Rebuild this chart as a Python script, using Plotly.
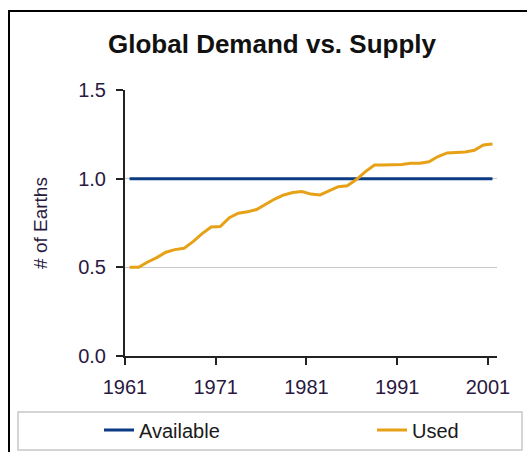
import plotly.graph_objects as go

years = list(range(1961, 2002))
available = [1.0] * 41
used = [0.50, 0.50, 0.53, 0.555, 0.585, 0.60, 0.607, 0.645, 0.69, 0.727,
        0.73, 0.78, 0.805, 0.813, 0.826, 0.855, 0.885, 0.908, 0.922, 0.927,
        0.913, 0.908, 0.93, 0.955, 0.96, 0.995, 1.04, 1.077, 1.077, 1.077,
        1.08, 1.087, 1.087, 1.095, 1.125, 1.145, 1.147, 1.15, 1.16, 1.19, 1.196]
tick_labels = ["1961", "1971", "1981", "1991", "2001"]
y_ticks = [0.0, 0.5, 1.0, 1.5]

BLUE = "#0b3b83"
ORANGE = "#e6a117"
TXT = "#2a1840"

W, H = 527, 452
L, R, T, B = 125, 30, 90, 96

fig = go.Figure()
fig.add_trace(go.Scatter(x=years, y=available, mode="lines", name="Available",
                         line=dict(color=BLUE, width=3), legend="legend"))
fig.add_trace(go.Scatter(x=years, y=used, mode="lines", name="Used",
                         line=dict(color=ORANGE, width=3), legend="legend2"))


def px_x(p):
    return (p - L) / (W - L - R)


def px_y(p):
    return (H - B - p) / (H - T - B)


leg_common = dict(orientation="h", xanchor="left", yanchor="middle",
                  xref="container", yref="container",
                  bgcolor="rgba(0,0,0,0)", borderwidth=0,
                  font=dict(size=20, color="#1a1a1a"),
                  itemclick=False, itemdoubleclick=False)

fig.update_layout(
    width=W, height=H,
    margin=dict(l=L, r=R, t=T, b=B, autoexpand=False),
    paper_bgcolor="white", plot_bgcolor="white",
    font=dict(family="Liberation Sans, Arial, sans-serif", color=TXT),
    title=dict(text="<b>Global Demand vs. Supply</b>", x=272 / W, xanchor="center",
               xref="container", yref="container", y=1 - 44 / H, yanchor="middle",
               font=dict(size=26, color="#111111")),
    xaxis=dict(range=[1960.5, 2001.5],
               tickvals=[1960.5, 1970.5, 1980.5, 1990.5, 2000.5],
               ticktext=tick_labels,
               showgrid=False, zeroline=False, automargin=False,
               showline=True, linecolor="#222222", linewidth=2,
               ticks="outside", ticklen=7, tickwidth=2, tickcolor="#222222",
               tickfont=dict(size=20, color=TXT), ticklabelstandoff=5),
    yaxis=dict(range=[0, 1.5], tickvals=y_ticks,
               ticktext=["0.0", "0.5", "1.0", "1.5"],
               showgrid=True, gridcolor="#c8c8c8", gridwidth=1,
               zeroline=False, automargin=False,
               showline=True, linecolor="#222222", linewidth=2,
               ticks="outside", ticklen=7, tickwidth=2, tickcolor="#222222",
               tickfont=dict(size=20, color=TXT), ticklabelstandoff=6,
               title=dict(text="# of Earths", font=dict(size=19, color=TXT),
                          standoff=26)),
    showlegend=True,
    legend=dict(x=99 / W, y=1 - 430 / H, **leg_common),
    legend2=dict(x=372 / W, y=1 - 430 / H, **leg_common),
    shapes=[
        dict(type="rect", xref="paper", yref="paper",
             x0=px_x(9), x1=px_x(560), y0=px_y(500), y1=px_y(11),
             line=dict(color="black", width=2), fillcolor="rgba(0,0,0,0)",
             layer="below"),
        dict(type="rect", xref="paper", yref="paper",
             x0=px_x(18), x1=px_x(522), y0=px_y(450), y1=px_y(412),
             line=dict(color="#c8c8c8", width=1.5), fillcolor="rgba(0,0,0,0)",
             layer="below"),
    ],
)

fig.write_html("out.html", config={"displayModeBar": False},
               post_script="document.body.style.margin='0';")
